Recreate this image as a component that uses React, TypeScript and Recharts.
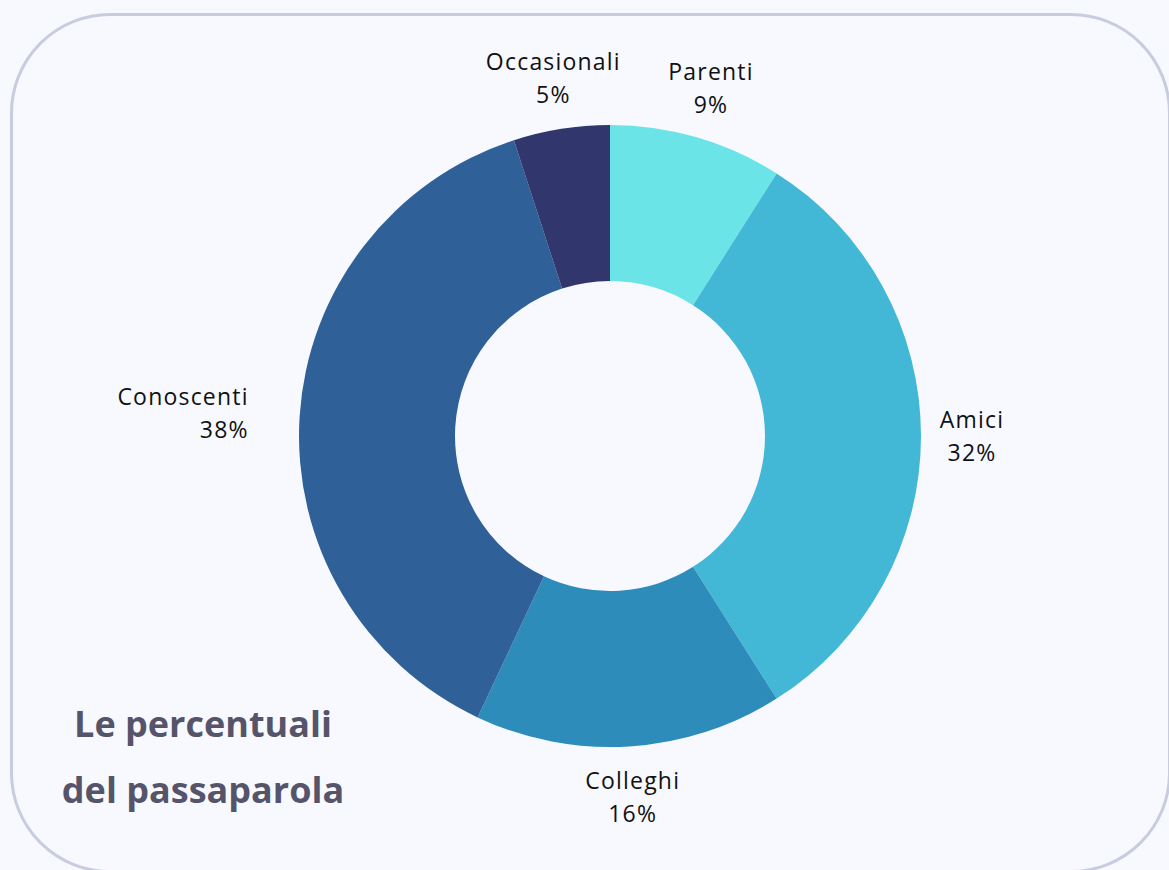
import { PieChart, Pie, Cell } from 'recharts'

const categories = ['Parenti', 'Amici', 'Colleghi', 'Conoscenti', 'Occasionali']
const shares = [9, 32, 16, 38, 5]
const colors = ['#6BE4E7', '#43B7D6', '#2E8CBB', '#2F6098', '#31366D']

const data = categories.map((name, i) => ({ name, value: shares[i] }))

const RAD = Math.PI / 180

// eslint-disable-next-line @typescript-eslint/no-explicit-any
const renderLabel = ({ cx, cy, midAngle, name, value }: any) => {
  const r = 362
  const cos = Math.cos(-midAngle * RAD)
  const x = cx + r * cos
  const y = cy + r * Math.sin(-midAngle * RAD)
  const anchor = cos < -0.6 ? 'end' : 'middle'
  return (
    <text x={x} y={y} textAnchor={anchor} fill="#111111" fontSize={23} letterSpacing={1.2} fontFamily="'Open Sans', sans-serif">
      <tspan x={x} dy={-8}>{name}</tspan>
      <tspan x={x} dy={33}>{value}%</tspan>
    </text>
  )
}

export default function App() {
  return (
    <div style={{ position: 'fixed', left: 0, top: 0, width: 1169, height: 870, background: '#F7F9FE', overflow: 'hidden' }}>
      <div style={{
        position: 'absolute', left: 10, top: 13, width: 1161, height: 860,
        boxSizing: 'border-box', border: '3px solid #C8CCDF', borderRadius: 100
      }} />
      <div style={{ position: 'absolute', left: 0, top: 0 }}>
        <PieChart width={1169} height={870} margin={{ top: 0, right: 0, bottom: 0, left: 0 }}>
          <Pie
            data={data} dataKey="value" nameKey="name"
            cx={610} cy={436} innerRadius={155} outerRadius={311}
            startAngle={90} endAngle={-270}
            stroke="none" label={renderLabel} labelLine={false}
            isAnimationActive={false}
          >
            {data.map((d, i) => <Cell key={d.name} fill={colors[i]} />)}
          </Pie>
        </PieChart>
      </div>
      <div style={{
        position: 'absolute', left: 20, top: 691, width: 366, textAlign: 'center',
        fontFamily: "'Open Sans', sans-serif", fontWeight: 700, fontSize: 36, lineHeight: '66px',
        color: '#56546A'
      }}>
        Le percentuali<br />del passaparola
      </div>
    </div>
  )
}
